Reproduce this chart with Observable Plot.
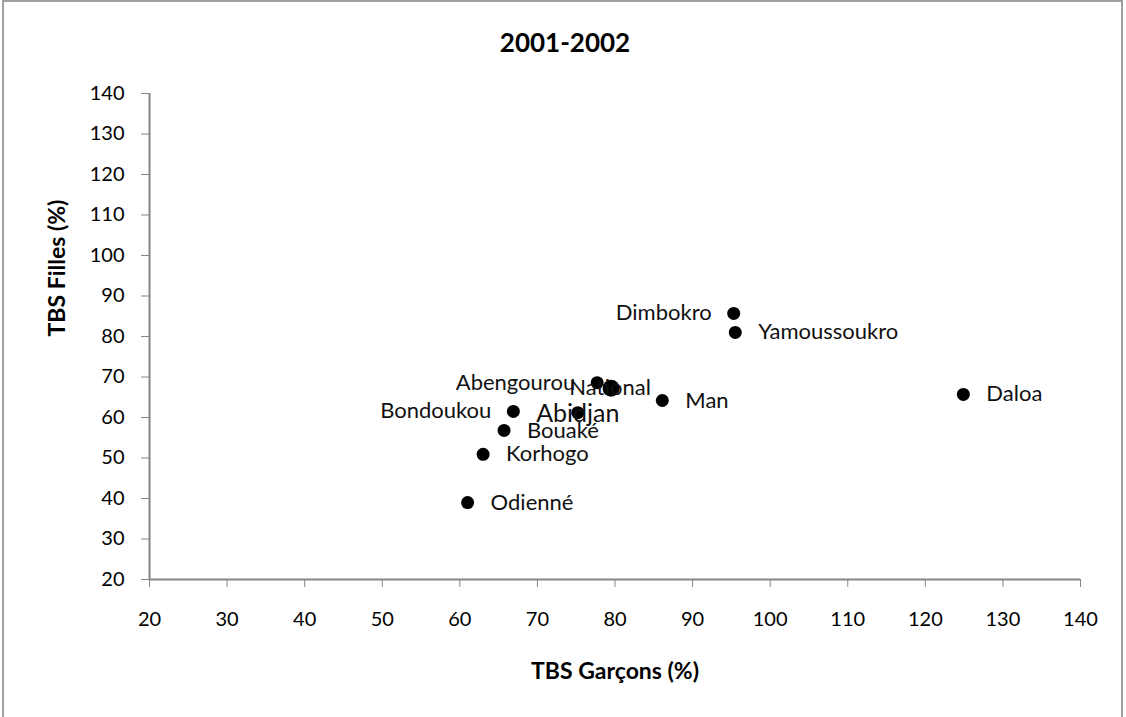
<!DOCTYPE html>
<html>
<head>
<meta charset="utf-8">
<script src="https://cdn.jsdelivr.net/npm/d3@7"></script>
<script src="https://cdn.jsdelivr.net/npm/@observablehq/plot@0.6"></script>
<style>
  html, body { margin: 0; padding: 0; background: #fff; }
  #wrap { position: relative; width: 1126px; height: 717px; overflow: hidden; }
  #border { position: absolute; left: 2px; top: 0px; width: 1121px; height: 730px; border: 2px solid #a0a0a0; box-sizing: border-box; pointer-events: none; }
  svg { display: block; }
</style>
</head>
<body>
<div id="wrap"><div id="border"></div></div>
<script>
const title = "2001-2002";
const xLabel = "TBS Garçons (%)";
const yLabel = "TBS Filles (%)";
const regions = ["Odienné", "Korhogo", "Bouaké", "Bondoukou", "Abidjan", "Abengourou", "National", "Man", "Dimbokro", "Yamoussoukro", "Daloa"];
const tbsGarcons = [61.0, 63.0, 65.7, 66.9, 75.2, 77.7, 79.5, 86.1, 95.3, 95.5, 124.9];
const tbsFilles = [39.0, 50.9, 56.8, 61.5, 61.2, 68.6, 67.2, 64.2, 85.7, 81.0, 65.7];
const xTicks = [20, 30, 40, 50, 60, 70, 80, 90, 100, 110, 120, 130, 140];
const yTicks = [20, 30, 40, 50, 60, 70, 80, 90, 100, 110, 120, 130, 140];

const data = regions.map((r, i) => ({ region: r, x: tbsGarcons[i], y: tbsFilles[i] }));

// label placement (style only)
const leftSide = new Set(["Dimbokro", "Bondoukou", "Abengourou"]);
const centered = new Set(["National", "Abidjan"]);
const rightData = data.filter(d => !leftSide.has(d.region) && !centered.has(d.region));
const leftData = data.filter(d => leftSide.has(d.region));
const natData = data.filter(d => d.region === "National");
const abiData = data.filter(d => d.region === "Abidjan");

const font = "Lato, 'Open Sans', sans-serif";
const axisGray = "#868686";

const chart = Plot.plot({
  width: 1126,
  height: 717,
  marginLeft: 149,
  marginRight: 46,
  marginTop: 93,
  marginBottom: 138,
  style: { fontFamily: font, fontSize: "20px", color: "#000", background: "transparent" },
  x: { domain: [20, 140] },
  y: { domain: [20, 140] },
  marks: [
    Plot.axisX({ ticks: xTicks, tickSize: 8, tickPadding: 24, stroke: axisGray, fill: "#000", label: null, fontSize: 20 }),
    Plot.axisY({ ticks: yTicks, tickSize: 8, tickPadding: 17, stroke: axisGray, fill: "#000", label: null, fontSize: 20 }),
    Plot.ruleX([20], { stroke: axisGray, strokeWidth: 2 }),
    Plot.ruleY([20], { stroke: axisGray, strokeWidth: 2 }),
    Plot.dot(data.filter(d => d.region !== "National"), { x: "x", y: "y", r: 6.5, fill: "#000", stroke: null }),
    Plot.dot(natData, { x: "x", y: "y", r: 8.5, fill: "#000", stroke: null }),
    Plot.text(rightData, { x: "x", y: "y", text: "region", textAnchor: "start", dx: 23, fontSize: 22, fill: "#111" }),
    Plot.text(leftData, { x: "x", y: "y", text: "region", textAnchor: "end", dx: -22, fontSize: 22, fill: "#111" }),
    Plot.text(natData, { x: "x", y: "y", text: "region", textAnchor: "middle", dx: -1, fontSize: 22, fill: "#111" }),
    Plot.text(abiData, { x: "x", y: "y", text: "region", textAnchor: "middle", dy: 1, fontSize: 25, fill: "#111" }),
    Plot.text([title], { frameAnchor: "top", dx: -50, dy: -60, fontSize: 26, fontWeight: "bold", fill: "#000" }),
    Plot.text([xLabel], { frameAnchor: "bottom", dy: 99, fontSize: 23, fontWeight: "bold", fill: "#000" }),
    Plot.text([yLabel], { frameAnchor: "left", dx: -92, rotate: -90, fontSize: 23, fontWeight: "bold", fill: "#000" })
  ]
});

document.getElementById("wrap").insertBefore(chart, document.getElementById("border"));
</script>
</body>
</html>
